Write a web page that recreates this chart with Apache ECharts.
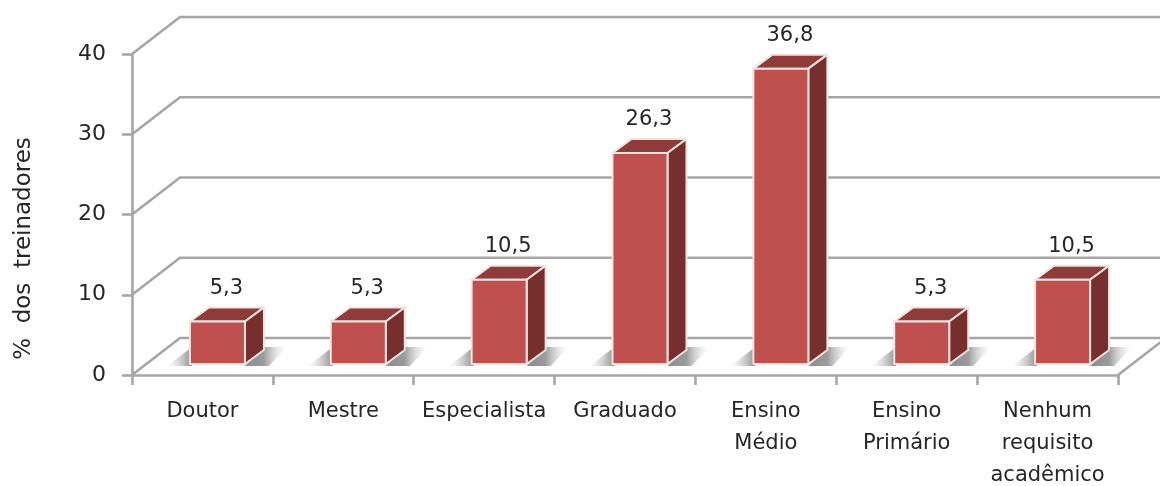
<!DOCTYPE html>
<html><head><meta charset="utf-8">
<style>html,body{margin:0;padding:0;background:#fff}#c{width:1160px;height:486px}</style>
<script src="https://cdn.jsdelivr.net/npm/echarts@6/dist/echarts.min.js"></script>
</head><body><div id="c"></div>
<script>
const categories = ['Doutor','Mestre','Especialista','Graduado','Ensino\nMédio','Ensino\nPrimário','Nenhum\nrequisito\nacadêmico'];
const valueLabels = ['5,3','5,3','10,5','26,3','36,8','5,3','10,5'];
const values = [5.3,5.3,10.5,26.3,36.8,5.3,10.5];
const ticks = [0,10,20,30,40];

const FONT = '"DejaVu Sans"';
const LINE = '#a6a6a6', TEXT = '#262626', LW = 2.6;
const WALL_DX = 48, WALL_DY = -37;
const chart = echarts.init(document.getElementById('c'));

function renderWall(params, api) {
  const cs = params.coordSys;
  const v = api.value(1);
  const y = api.coord([0, v])[1];
  const x0 = cs.x, x1 = cs.x + cs.width;
  const st = {stroke: LINE, lineWidth: LW, fill: 'none'};
  const kids = [{type:'polyline', shape:{points:[[x0,y],[x0+WALL_DX,y+WALL_DY],[x1+WALL_DX,y+WALL_DY]]}, style:st}];
  if (v === 0) kids.push({type:'line', shape:{x1:x1,y1:y,x2:x1+WALL_DX,y2:y+WALL_DY}, style:st});
  return {type:'group', children:kids};
}

function renderBar(params, api) {
  const i = api.value(0), v = api.value(1);
  const top0 = api.coord([i, v]), base0 = api.coord([i, 0]);
  const w = 55, dx = 19, dy = -14;
  const l = top0[0] - w/2 + 15, r = l + w;
  const b = base0[1] - 11, t = top0[1] - 11;
  const edge = {stroke:'#f0e4e3', lineWidth:2, lineJoin:'round'};
  const G = stops => new echarts.graphic.LinearGradient(0,0,1,0,stops);
  return {type:'group', children:[
    {type:'polygon', shape:{points:[[l-23,b+2],[l+2,b+2],[l+2,b-17]]},
      style:{fill:G([{offset:0,color:'rgba(190,190,190,0)'},{offset:1,color:'rgba(130,130,130,0.9)'}])}},
    {type:'polygon', shape:{points:[[r,b+2],[r+dx,b-17],[r+42,b-17],[r+24,b+2]]},
      style:{fill:G([{offset:0,color:'rgba(140,140,140,1)'},{offset:0.45,color:'rgba(150,150,150,0.95)'},{offset:1,color:'rgba(225,225,225,0)'}])}},
    {type:'polygon', shape:{points:[[l,t],[r,t],[r+dx,t+dy],[l+dx,t+dy]]}, style:Object.assign({fill:'#8f3b39'},edge)},
    {type:'polygon', shape:{points:[[r,t],[r+dx,t+dy],[r+dx,b+dy],[r,b]]}, style:Object.assign({fill:'#772f2d'},edge)},
    {type:'rect', shape:{x:l,y:t,width:w,height:b-t}, style:Object.assign({fill:'#c0504d'},edge)},
    {type:'text', style:{text:valueLabels[i], x:l+w/2+9, y:t-33, align:'center', verticalAlign:'middle',
      font:'21px '+FONT, fill:TEXT}}
  ]};
}

chart.setOption({
  animation:false,
  grid:{left:132, right:42, top:54, bottom:111, outerBoundsMode:'none'},
  xAxis:{type:'category', data:categories,
    axisLine:{lineStyle:{color:LINE,width:LW}},
    axisTick:{show:true,alignWithLabel:false,length:10,lineStyle:{color:LINE,width:LW}},
    axisLabel:{interval:0,margin:21,lineHeight:32,fontFamily:FONT,fontSize:21,color:TEXT}},
  yAxis:{type:'value',min:0,max:40,interval:10,
    name:'%  dos  treinadores',nameLocation:'middle',nameGap:96,nameRotate:90,
    nameTextStyle:{fontFamily:FONT,fontSize:23,color:TEXT,padding:[0,68,0,0]},
    splitLine:{show:false},
    axisLine:{show:true,lineStyle:{color:LINE,width:LW}},
    axisTick:{show:true,length:10,lineStyle:{color:LINE,width:LW}},
    axisLabel:{margin:26,fontFamily:FONT,fontSize:22,color:TEXT,padding:[8,0,0,0]}},
  series:[
    {type:'custom',clip:false,z:1,renderItem:renderWall,encode:{x:0,y:1},data:ticks.map(t=>[0,t]),silent:true},
    {type:'custom',clip:false,z:2,renderItem:renderBar,encode:{x:0,y:1},data:values.map((v,i)=>[i,v]),silent:true}
  ]
});
</script></body></html>
